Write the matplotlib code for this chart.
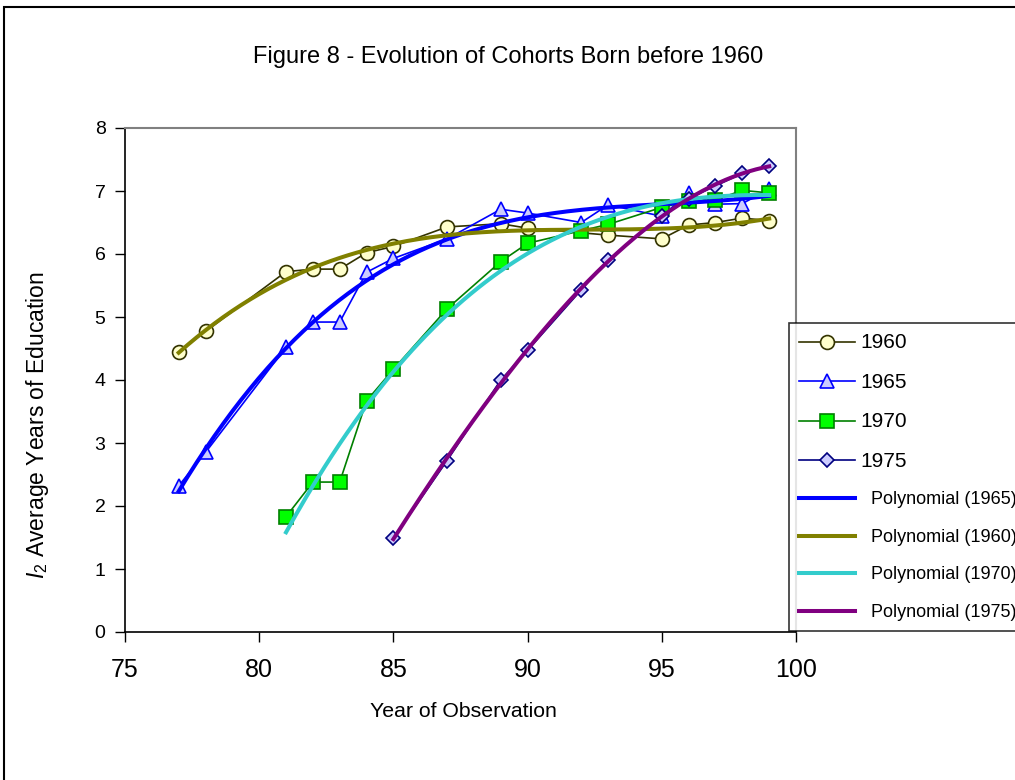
import numpy as np
import matplotlib
matplotlib.use("Agg")
import matplotlib.pyplot as plt
from matplotlib.patches import Rectangle

plt.rcParams['font.family'] = ['Liberation Sans', 'DejaVu Sans']
plt.rcParams['mathtext.fontset'] = 'custom'
plt.rcParams['mathtext.rm'] = 'Liberation Sans'
plt.rcParams['mathtext.it'] = 'Liberation Sans:italic'

# ---- data (year of observation, average years of education)
yr_1960 = [77, 78, 81, 82, 83, 84, 85, 87, 89, 90, 93, 95, 96, 97, 98, 99]
ed_1960 = [4.45, 4.77, 5.72, 5.76, 5.76, 6.02, 6.12, 6.43, 6.48, 6.41, 6.30, 6.24, 6.46, 6.50, 6.57, 6.53]

yr_1965 = [77, 78, 81, 82, 83, 84, 85, 87, 89, 90, 92, 93, 95, 96, 97, 98, 99]
ed_1965 = [2.32, 2.85, 4.52, 4.92, 4.92, 5.71, 5.93, 6.24, 6.71, 6.65, 6.50, 6.78, 6.60, 6.97, 6.79, 6.80, 7.03]

yr_1970 = [81, 82, 83, 84, 85, 87, 89, 90, 92, 93, 95, 96, 97, 98, 99]
ed_1970 = [1.83, 2.38, 2.38, 3.67, 4.17, 5.13, 5.88, 6.17, 6.37, 6.47, 6.74, 6.84, 6.86, 7.01, 6.97]

yr_1975 = [85, 87, 89, 90, 92, 93, 95, 96, 97, 98, 99]
ed_1975 = [1.49, 2.72, 4.00, 4.47, 5.43, 5.91, 6.60, 6.88, 7.08, 7.28, 7.40]

x_ticks = [75, 80, 85, 90, 95, 100]
y_ticks = [0, 1, 2, 3, 4, 5, 6, 7, 8]

W, H = 1015, 780
fig = plt.figure(figsize=(W / 100, H / 100), dpi=100)
ax = fig.add_axes([125 / W, (H - 632) / H, 671 / W, 504 / H])

series = [
    ("1960", yr_1960, ed_1960, 'o', '#333300', '#FFFFCC', 10),
    ("1965", yr_1965, ed_1965, '^', '#0000FF', '#CCCCFF', 10),
    ("1970", yr_1970, ed_1970, 's', '#008000', '#00FF00', 9.5),
    ("1975", yr_1975, ed_1975, 'D', '#000080', '#CCCCFF', 7),
]
handles = []
for name, xs, ys, mk, col, face, ms in series:
    h, = ax.plot(xs, ys, color=col, lw=1.2, marker=mk, ms=ms, mfc=face,
                 mec=col, mew=1.2, label=name, zorder=2)
    handles.append(h)

# polynomial trendlines (3rd order fit of each cohort), drawn in legend order
trend = [
    ("1965", yr_1965, ed_1965, '#0000FF'),
    ("1960", yr_1960, ed_1960, '#808000'),
    ("1970", yr_1970, ed_1970, '#33CCCC'),
    ("1975", yr_1975, ed_1975, '#800080'),
]
for name, xs, ys, col in trend:
    p = np.polyfit(xs, ys, 3)
    xx = np.linspace(min(xs), max(xs), 200)
    h, = ax.plot(xx, np.polyval(p, xx), color=col, lw=2.9, zorder=3,
                 label="  Polynomial (" + name + ")")
    handles.append(h)

ax.set_xlim(75, 100)
ax.set_ylim(0, 8)
ax.set_xticks(x_ticks)
ax.set_yticks(y_ticks)
ax.tick_params(axis='x', direction='out', length=7, width=1, pad=11.5, labelsize=18)
ax.tick_params(axis='y', direction='out', length=7, width=1, pad=7, labelsize=14)
for s in ['top', 'right']:
    ax.spines[s].set_color('#808080')
    ax.spines[s].set_linewidth(1.5)
for s in ['left', 'bottom']:
    ax.spines[s].set_color('black')
    ax.spines[s].set_linewidth(1.2)

ax.set_xlabel("Year of Observation", fontsize=15.3)
ax.xaxis.set_label_coords((463 - 125) / 671, (632 - 702) / 504)
ax.set_ylabel(r"$\mathit{I}_2$ Average Years of Education", fontsize=16.5)
ax.yaxis.set_label_coords((51 - 125) / 671, (632 - 425) / 504)

fig.text(508 / W, 1 - 57 / H, "Figure 8 - Evolution of Cohorts Born before 1960",
         ha='center', va='center', fontsize=17)

leg = fig.legend(handles, [h.get_label() for h in handles], loc='upper left',
                 bbox_to_anchor=(789 / W, 1 - 323 / H), bbox_transform=fig.transFigure,
                 borderaxespad=0, fontsize=13, frameon=True, fancybox=False,
                 handlelength=3.1, handletextpad=0.33, borderpad=0.55,
                 labelspacing=1.14)
leg.get_frame().set_edgecolor('black')
leg.get_frame().set_linewidth(1.2)
for t in leg.get_texts()[:4]:
    t.set_fontsize(15)

# outer chart frame (cropped on the right and bottom)
fig.add_artist(Rectangle((4 / W, -0.1), 1.2, 1.1 - 7 / H, transform=fig.transFigure,
                         fill=False, ec='black', lw=1.5))

fig.savefig("out.png", dpi=100)
